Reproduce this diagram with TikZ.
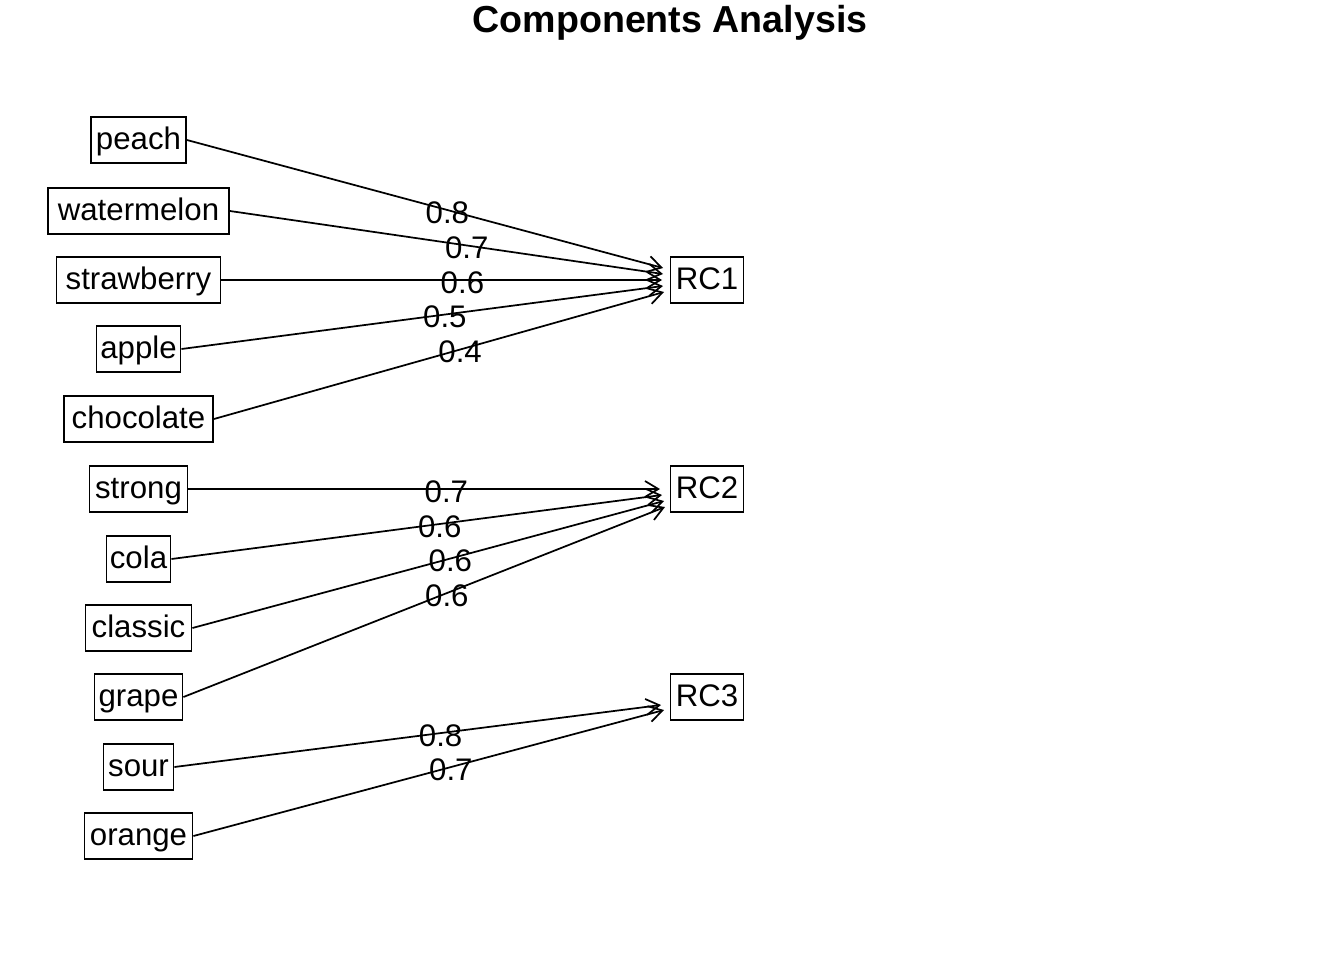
\documentclass[tikz,border=0pt]{standalone}
\usepackage{fontspec}
\setmainfont{Liberation Sans}
\usetikzlibrary{arrows.meta}
\begin{document}
\begin{tikzpicture}[x=0.75pt,y=-0.75pt,
  var/.style={draw, line width=1.4pt, minimum height=35pt, inner xsep=0pt,
    inner ysep=0pt, text height=16.8pt, text depth=2.3pt,
    font=\fontsize{23.4}{24}\selectfont},
  w/.style={minimum width={#1*0.75pt}},
  load/.style={line width=1.3pt,
    -{Straight Barb[length=10pt,width=12pt,line width=1.3pt]}},
  lab/.style={pos=0.547, inner sep=0pt, yshift=-2pt,
    font=\fontsize{23.4}{24}\selectfont},
  ttl/.style={font=\fontsize{28.2}{30}\selectfont\bfseries}]
\useasboundingbox (0,0) rectangle (1344,960);

\node[ttl] (title) at (670,23) {Components Analysis};

% observed variables
\node[var,w=95]  (peach)      at (138.5,140) {peach};
\node[var,w=181] (watermelon) at (138.5,211) {watermelon};
\node[var,w=164] (strawberry) at (138.5,280) {strawberry};
\node[var,w=84]  (apple)      at (138.5,349) {apple};
\node[var,w=149] (chocolate)  at (138.5,419) {chocolate};
\node[var,w=98]  (strong)     at (138.5,489) {strong};
\node[var,w=64]  (cola)       at (138.5,559) {cola};
\node[var,w=106] (classic)    at (138.5,628) {classic};
\node[var,w=88]  (grape)      at (138.5,697) {grape};
\node[var,w=70]  (sour)       at (138.5,767) {sour};
\node[var,w=108] (orange)     at (138.5,836) {orange};

% components
\node[var,w=73] (RC1) at (707,280) {RC1};
\node[var,w=73] (RC2) at (707,489) {RC2};
\node[var,w=73] (RC3) at (707,697) {RC3};

% arrow tips spread along the left side of each component
\coordinate (t11) at (663,268);
\coordinate (t12) at (663,274);
\coordinate (t13) at (662,280);
\coordinate (t14) at (663,286);
\coordinate (t15) at (664,292);
\coordinate (t21) at (660,489);
\coordinate (t22) at (662,495);
\coordinate (t23) at (664,501);
\coordinate (t24) at (665,507);
\coordinate (t31) at (661,705);
\coordinate (t32) at (664,710);

% loadings
\draw[load] (peach.east)      -- node[lab] {0.8} (t11);
\draw[load] (watermelon.east) -- node[lab] {0.7} (t12);
\draw[load] (strawberry.east) -- node[lab] {0.6} (t13);
\draw[load] (apple.east)      -- node[lab] {0.5} (t14);
\draw[load] (chocolate.east)  -- node[lab] {0.4} (t15);
\draw[load] (strong.east)     -- node[lab] {0.7} (t21);
\draw[load] (cola.east)       -- node[lab] {0.6} (t22);
\draw[load] (classic.east)    -- node[lab] {0.6} (t23);
\draw[load] (grape.east)      -- node[lab] {0.6} (t24);
\draw[load] (sour.east)       -- node[lab] {0.8} (t31);
\draw[load] (orange.east)     -- node[lab] {0.7} (t32);
\end{tikzpicture}
\end{document}
